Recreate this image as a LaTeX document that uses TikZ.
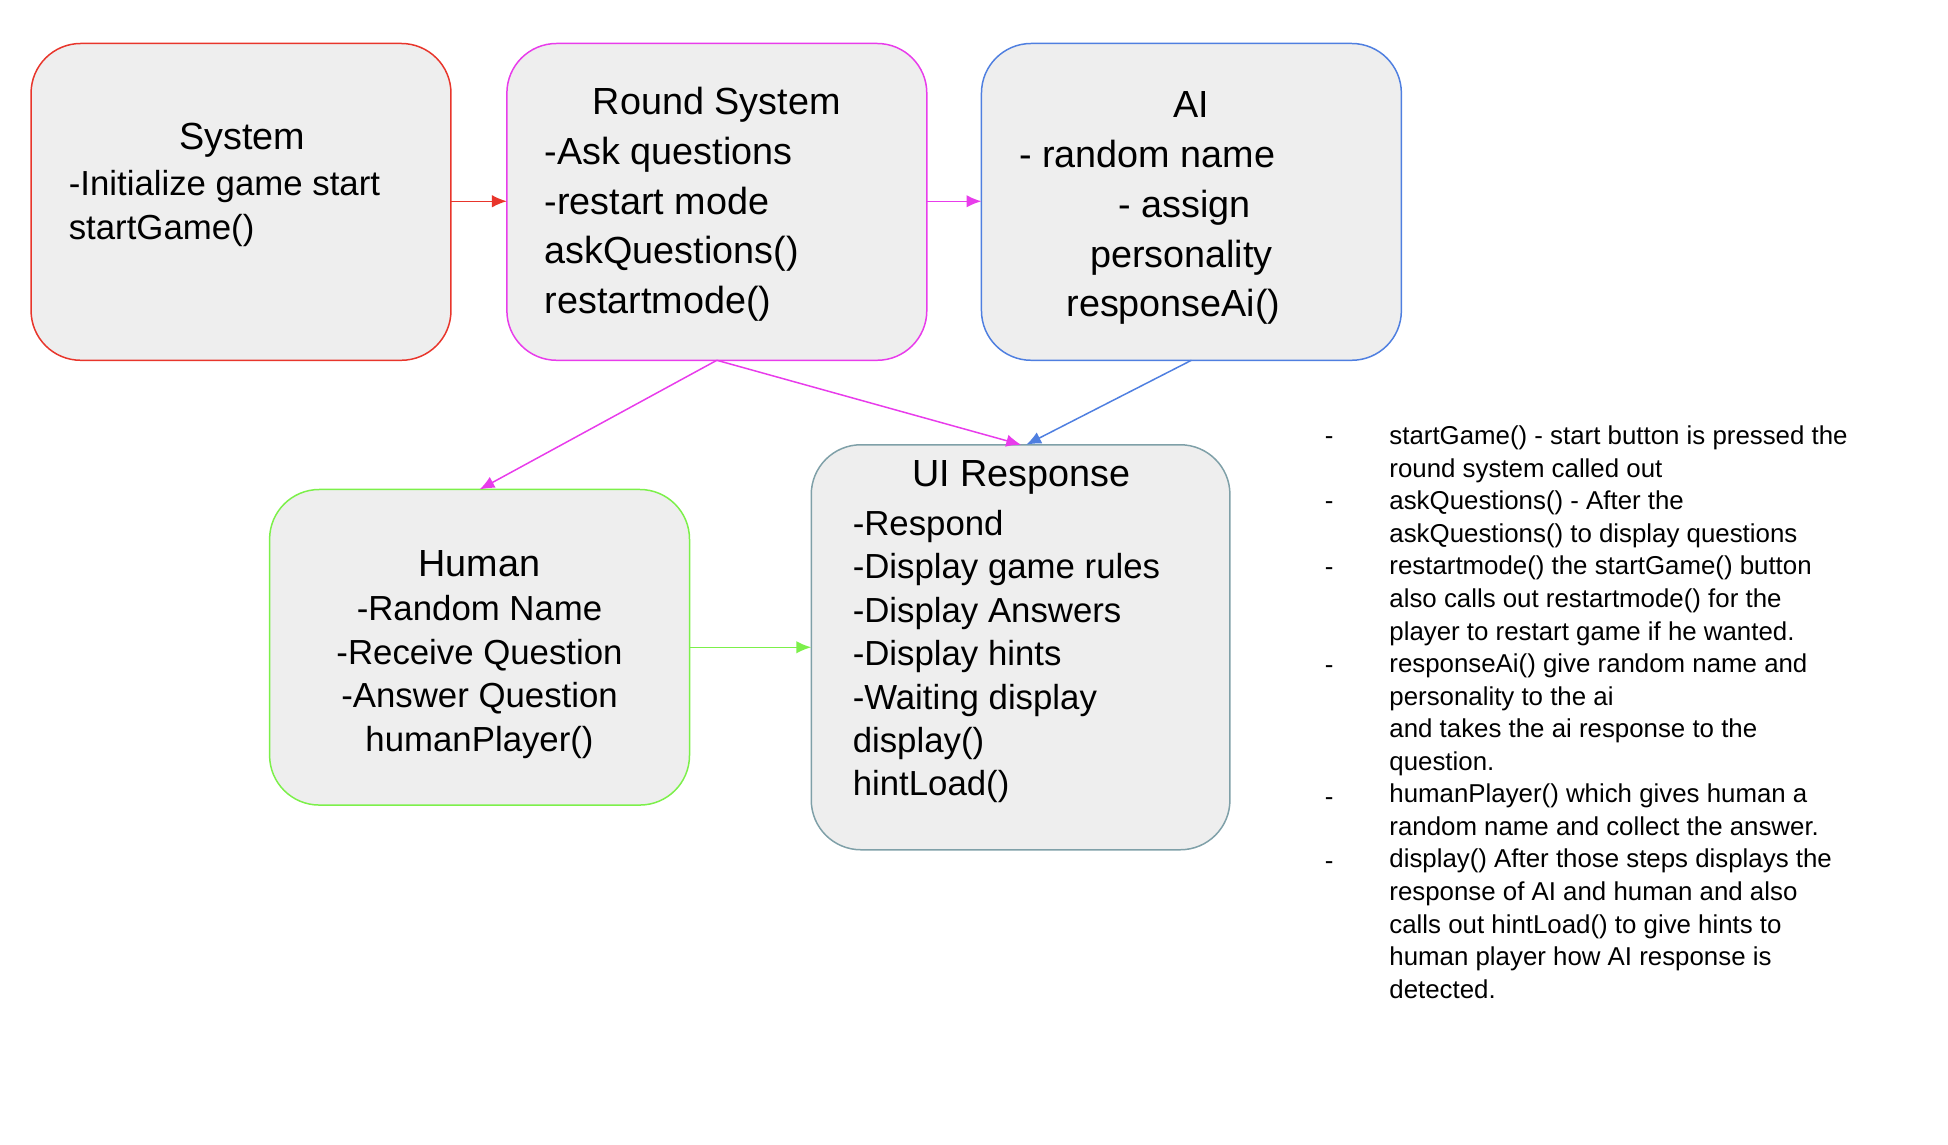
\documentclass[tikz,border=0pt]{standalone}
\usepackage{fontspec}
\setmainfont{Liberation Sans}
\usetikzlibrary{arrows.meta}
\definecolor{boxgray}{HTML}{EEEEEE}
\definecolor{sysred}{HTML}{E8352B}
\definecolor{roundmag}{HTML}{E83CEB}
\definecolor{aiblue}{HTML}{4F7FE0}
\definecolor{humgreen}{HTML}{7CF04A}
\definecolor{uigray}{HTML}{7FA0A8}
\tikzset{
  part/.style={draw=#1, fill=boxgray, rounded corners=20pt, line width=0.6pt},
  link/.style={draw=#1, line width=0.6pt, -{Latex[length=6pt,width=5pt]}},
  big/.style={font=\fontsize{15.2}{20}\selectfont, inner sep=0pt},
  small/.style={font=\fontsize{14}{17.5}\selectfont, inner sep=0pt},
  line/.style={font=\fontsize{15.2}{20}\selectfont, inner sep=0pt, anchor=base west},
  note/.style={font=\fontsize{10.4}{13}\selectfont, inner sep=0pt, anchor=base west}
}
\begin{document}
\begin{tikzpicture}[x=0.5pt,y=-0.5pt]
\useasboundingbox (0,0) rectangle (1568,921);

    %boxes
    \draw[part=sysred] (25,35) rectangle (363,290);
    \draw[part=roundmag] (408,35) rectangle (746,290);
    \draw[part=aiblue] (790,35) rectangle (1128,290);
    \draw[part=humgreen] (217,394) rectangle (555,648);
    \draw[part=uigray] (653,358) rectangle (990,684);

    %anchors for the links
    \coordinate (sysR) at (363,162);
    \coordinate (rndL) at (408,162);
    \coordinate (rndR) at (746,162);
    \coordinate (aiL) at (790,162);
    \coordinate (rndB) at (577,290);
    \coordinate (aiB) at (959,290);
    \coordinate (humT) at (386,394);
    \coordinate (uiT) at (822,358);
    \coordinate (uiT2) at (826,358);
    \coordinate (humR) at (555,521);
    \coordinate (uiL) at (653,521);

    %texts
    \node[big] (sysTitle) at (195,113) {System};
    \node[small, align=left, anchor=north west] (sysText) at (55,137) {-Initialize game start\\startGame()};
    \node[big] (rndTitle) at (577,84) {Round System};
    \node[big, align=left, anchor=north west] (rndText) at (438,110) {-Ask questions\\-restart mode\\askQuestions()\\restartmode()};
    \node[big] (aiTitle) at (959,84) {AI};
    \node[line] (aiName) at (820,135) {- random name};
    \node[line] (aiAssign) at (900,175) {- assign};
    \node[line] (aiPers) at (877,215) {personality};
    \node[line] (aiResp) at (858,255) {responseAi()};
    \node[big] (humTitle) at (386,454) {Human};
    \node[small, align=center, anchor=north] (humText) at (386,479) {-Random Name\\-Receive Question\\-Answer Question\\humanPlayer()};
    \node[big] (uiTitle) at (822,384) {UI Response};
    \node[small, align=left, anchor=north west] (uiText) at (686,410) {-Respond\\-Display game rules\\-Display Answers\\-Display hints\\-Waiting display\\display()\\hintLoad()};

    %links
    \draw[link=sysred] (sysR) -- (rndL);
    \draw[link=roundmag] (rndR) -- (aiL);
    \draw[link=roundmag] (rndB) -- (humT);
    \draw[link=roundmag] (rndB) -- (uiT);
    \draw[link=aiblue] (aiB) -- (uiT2);
    \draw[link=humgreen] (humR) -- (uiL);

    %notes
    \foreach \y in {358,410,463,542,648,700}
        \node[note] at (1066,\y) {-};
    \foreach \t [count=\i from 0] in {
      startGame() - start button is pressed the,
      round system called out,
      askQuestions() - After the,
      askQuestions() to display questions,
      restartmode() the startGame() button,
      also calls out restartmode() for the,
      player to restart game if he wanted.,
      responseAi() give random name and,
      personality to the ai,
      and takes the ai response to the,
      question.,
      humanPlayer() which gives human a,
      random name and collect the answer.,
      display() After those steps displays the,
      response of AI and human and also,
      calls out hintLoad() to give hints to,
      human player how AI response is,
      detected.}
        \node[note] at (1118,358+26.2*\i) {\t};
\end{tikzpicture}
\end{document}
